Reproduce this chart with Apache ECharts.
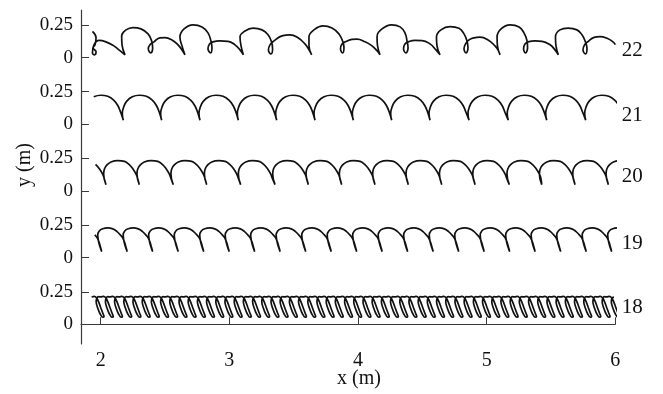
<!DOCTYPE html>
<html>
<head>
<meta charset="utf-8">
<script src="https://cdn.jsdelivr.net/npm/echarts@6/dist/echarts.min.js"></script>
<style>
html,body{margin:0;padding:0;background:#fff}
#main{width:663px;height:394px}
</style>
</head>
<body>
<div id="main"></div>
<script>
// 刻度
var xTicks = [2, 3, 4, 5, 6];
var yTickLocal = [0, 0.25];
var panelNames = ['18', '19', '20', '21', '22'];
var panelOffsets = [0, 0.513, 1.026, 1.539, 2.052];
var labelHeights = [0.13, 0.11, 0.11, 0.065, 0.055];
var startX = [1.93, 1.93, 1.93, 1.935, 1.936];
var smoothness = [0.3, 0.4, 0.45, 0.45, 0.45];

// 22: 轨迹点 (x, 局部 y)
var x22 = [1.936,1.964,1.956,1.940,1.964,1.952,1.936,1.948,1.987,2.041,2.096,2.142,2.189,
  2.166,2.163,2.197,2.251,2.313,2.368,2.396,2.404,2.389,2.370,2.383,2.414,2.461,2.500,2.554,2.601,2.632,2.655,
  2.632,2.616,2.648,2.718,2.788,2.834,2.857,2.865,2.854,2.834,2.846,2.873,2.927,2.990,3.044,3.083,3.109,
  3.091,3.083,3.122,3.184,3.254,3.301,3.328,3.336,3.324,3.304,3.316,3.347,3.409,3.472,3.534,3.588,3.619,3.640,
  3.619,3.619,3.658,3.728,3.798,3.852,3.880,3.891,3.880,3.864,3.876,3.907,3.953,3.992,4.055,4.109,4.148,4.171,
  4.152,4.148,4.187,4.262,4.327,4.365,4.381,4.389,4.373,4.354,4.365,4.396,4.443,4.498,4.560,4.606,4.638,
  4.614,4.610,4.645,4.715,4.785,4.824,4.847,4.855,4.840,4.824,4.836,4.863,4.902,4.948,5.011,5.065,5.088,5.104,
  5.084,5.081,5.112,5.182,5.252,5.290,5.314,5.318,5.302,5.287,5.298,5.329,5.376,5.431,5.493,5.531,5.557,
  5.539,5.535,5.570,5.633,5.702,5.741,5.768,5.780,5.768,5.749,5.761,5.788,5.835,5.881,5.936,5.982,6.000];
var y22 = [0.202,0.152,0.098,0.075,0.044,0.021,0.036,0.098,0.132,0.121,0.094,0.059,0.021,
  0.098,0.167,0.213,0.231,0.221,0.182,0.128,0.075,0.036,0.067,0.098,0.121,0.152,0.154,0.136,0.098,0.059,0.021,
  0.090,0.159,0.221,0.252,0.236,0.190,0.128,0.075,0.036,0.067,0.105,0.121,0.128,0.125,0.098,0.059,0.021,
  0.090,0.159,0.205,0.226,0.213,0.175,0.121,0.067,0.028,0.059,0.098,0.128,0.167,0.175,0.152,0.105,0.059,0.021,
  0.090,0.159,0.213,0.244,0.228,0.182,0.128,0.075,0.036,0.067,0.105,0.123,0.140,0.142,0.121,0.090,0.052,0.021,
  0.090,0.159,0.221,0.252,0.236,0.190,0.128,0.075,0.036,0.067,0.105,0.123,0.132,0.131,0.105,0.059,0.021,
  0.090,0.159,0.213,0.238,0.225,0.182,0.128,0.075,0.036,0.067,0.105,0.136,0.152,0.157,0.136,0.090,0.059,0.021,
  0.090,0.159,0.221,0.252,0.236,0.190,0.128,0.075,0.036,0.067,0.105,0.123,0.128,0.125,0.098,0.059,0.021,
  0.090,0.159,0.213,0.226,0.213,0.175,0.121,0.067,0.028,0.059,0.098,0.123,0.155,0.161,0.148,0.121,0.100];

// 21: 尖点位置 + 单拱形状
var cusps21 = [1.876,2.176,2.474,2.772,3.070,3.368,3.666,3.964,4.262,4.560,4.863,5.168,5.467,5.770];
var arch21Dx = [0, -0.008, 0.004, 0.027, 0.070, 0.124, 0.179, 0.225, 0.257, 0.280];
var arch21Y = [0.031, 0.082, 0.136, 0.178, 0.211, 0.223, 0.215, 0.186, 0.144, 0.090];

// 20
var cusps20 = [1.781,2.041,2.300,2.564,2.824,3.088,3.355,3.614,3.873,4.132,4.391,4.651,4.910,5.176,5.428,5.687,5.946];
var arch20Dx = [0, -0.018, -0.012, 0.008, 0.039, 0.093, 0.144, 0.179, 0.210, 0.233, 0.245];
var arch20Y = [0.048, 0.131, 0.169, 0.200, 0.223, 0.233, 0.227, 0.204, 0.169, 0.131, 0.100];

// 19: 尖点处有斜的小环
var cusps19 = [1.810,2.008,2.206,2.404,2.603,2.801,2.999,3.197,3.395,3.594,3.792,3.990,4.188,4.386,4.585,4.783,4.981,5.179,5.377,5.576,5.774,5.972];
var arch19Dx = [0, -0.016, -0.027, -0.031, -0.019, 0.008, 0.047, 0.086, 0.117, 0.144, 0.163, 0.179, 0.190];
var arch19Y = [0.046, 0.090, 0.136, 0.175, 0.205, 0.222, 0.228, 0.221, 0.202, 0.175, 0.152, 0.113, 0.075];

// 18: 斜的小环
var loops18 = [1.930,2.002,2.073,2.145,2.216,2.288,2.359,2.431,2.502,2.574,2.645,2.717,2.788,2.860,2.931,
  3.003,3.074,3.146,3.217,3.289,3.360,3.432,3.503,3.575,3.646,3.718,3.789,3.861,3.932,4.004,4.075,4.147,
  4.218,4.290,4.361,4.433,4.504,4.576,4.647,4.719,4.790,4.862,4.933,5.005,5.076,5.148,5.219,5.291,5.362,
  5.434,5.505,5.577,5.648,5.720,5.791,5.863,5.934];
var loop18Dx = [0, 0.019, 0.039, 0.054, 0.070, 0.086, 0.096, 0.086, 0.066, 0.047, 0.035, 0.039, 0.054];
var loop18Y = [0.210, 0.215, 0.202, 0.172, 0.129, 0.087, 0.060, 0.054, 0.079, 0.125, 0.172, 0.198, 0.212];

function buildRepeated(starts, dx, ly, off, x0) {
  var pts = [];
  for (var i = 0; i < starts.length; i++) {
    for (var j = 0; j < dx.length; j++) {
      var x = starts[i] + dx[j];
      if (x < x0) continue;
      pts.push([x, ly[j] + off]);
    }
  }
  return pts;
}
function buildDirect(xs, ys, off) {
  var pts = [];
  for (var i = 0; i < xs.length; i++) pts.push([xs[i], ys[i] + off]);
  return pts;
}

var tracks = [
  buildRepeated(loops18, loop18Dx, loop18Y, panelOffsets[0], startX[0]),
  buildRepeated(cusps19, arch19Dx, arch19Y, panelOffsets[1], startX[1]),
  buildRepeated(cusps20, arch20Dx, arch20Y, panelOffsets[2], startX[2]),
  buildRepeated(cusps21, arch21Dx, arch21Y, panelOffsets[3], startX[3]),
  buildDirect(x22, y22, panelOffsets[4])
];

var yTickValues = [];
for (var i = 0; i < panelOffsets.length; i++) {
  for (var j = 0; j < yTickLocal.length; j++) yTickValues.push(panelOffsets[i] + yTickLocal[j]);
}

var serif = '"Liberation Serif", "DejaVu Serif", serif';
var axisColor = '#3a3a3a';

var series = [];
for (var i = 0; i < tracks.length; i++) {
  series.push({
    name: panelNames[i],
    type: 'line',
    data: tracks[i],
    showSymbol: false,
    smooth: smoothness[i],
    lineStyle: { color: '#111', width: 1.7 },
    animation: false
  });
}

var chart = echarts.init(document.getElementById('main'));
chart.setOption({
  animation: false,
  grid: { left: 81, right: 47.7, top: 10, bottom: 50 },
  xAxis: {
    type: 'value', min: 1.847, max: 6,
    axisLine: { lineStyle: { color: axisColor, width: 1.2 } },
    axisTick: { inside: true, length: 7, customValues: xTicks, lineStyle: { color: axisColor } },
    axisLabel: { customValues: xTicks, margin: 7, color: '#111', fontFamily: serif, fontSize: 20 },
    splitLine: { show: false }
  },
  yAxis: {
    type: 'value', min: -0.152, max: 2.418,
    axisLine: { show: true, lineStyle: { color: axisColor, width: 1.2 } },
    axisTick: { show: true, inside: true, length: 8, customValues: yTickValues, lineStyle: { color: axisColor } },
    axisLabel: {
      customValues: yTickValues, margin: 8, color: '#111', fontFamily: serif, fontSize: 19,
      formatter: function (v) {
        for (var k = 0; k < panelOffsets.length; k++) {
          if (Math.abs(v - panelOffsets[k]) < 0.01) return '0';
        }
        return '0.25';
      }
    },
    splitLine: { show: false }
  },
  series: series
});

// 右侧编号和坐标轴名称
var graphics = [];
for (var i = 0; i < panelNames.length; i++) {
  var p = chart.convertToPixel({ gridIndex: 0 }, [6.05, panelOffsets[i] + labelHeights[i]]);
  graphics.push({
    type: 'text', x: p[0], y: p[1],
    style: { text: panelNames[i], font: '21px ' + serif, fill: '#111', textAlign: 'left', textVerticalAlign: 'middle' }
  });
}
graphics.push({
  type: 'text', x: 359, y: 379,
  style: { text: 'x (m)', font: '20px ' + serif, fill: '#111', textAlign: 'center', textVerticalAlign: 'middle' }
});
graphics.push({
  type: 'text', x: 25, y: 165, rotation: Math.PI / 2,
  style: { text: 'y (m)', font: '20px ' + serif, fill: '#111', textAlign: 'center', textVerticalAlign: 'middle' }
});
chart.setOption({ graphic: graphics });
</script>
</body>
</html>
